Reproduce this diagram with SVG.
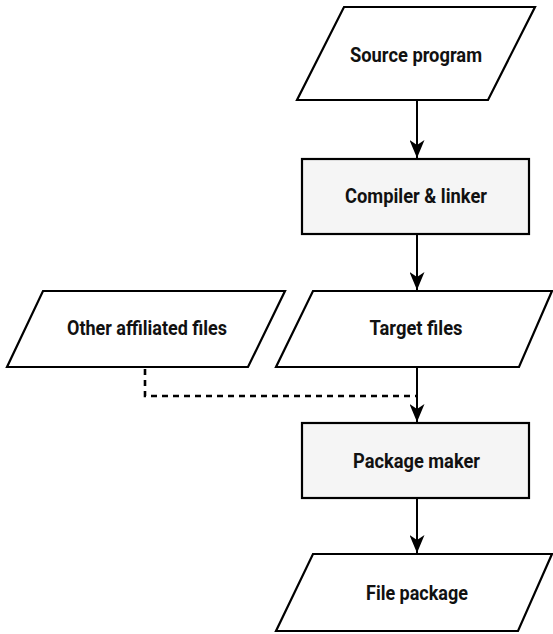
<svg xmlns="http://www.w3.org/2000/svg" width="553" height="634" viewBox="0 0 553 634">
<style>
.shape{stroke:#000;stroke-width:2.2;stroke-linejoin:miter}
.io{fill:#fff}
.proc{fill:#f5f5f5}
.lbl{font-family:"Roboto","Liberation Sans",sans-serif;font-weight:bold;font-size:20.5px;fill:#111;text-anchor:middle}
.conn{stroke:#000;stroke-width:2;fill:none}
.dash{stroke:#000;stroke-width:2.6;fill:none;stroke-dasharray:6 5}
</style>
<defs>
<marker id="arr" markerWidth="18" markerHeight="15" refX="18" refY="7.5" orient="auto" markerUnits="userSpaceOnUse">
<path d="M0,0 L18,7.5 L0,15 L5,7.5 Z" fill="#000"/>
</marker>
</defs>
<rect width="553" height="634" fill="#fff"/>
<g id="connectors">
<line class="conn" x1="417" y1="100" x2="417" y2="158" marker-end="url(#arr)"/>
<line class="conn" x1="417" y1="234" x2="417" y2="290" marker-end="url(#arr)"/>
<line class="conn" x1="417" y1="367" x2="417" y2="422" marker-end="url(#arr)"/>
<line class="conn" x1="417" y1="498" x2="417" y2="553" marker-end="url(#arr)"/>
<polyline class="dash" points="145,369 145,396 417,396"/>
</g>
<g id="source-program">
<polygon class="shape io" points="344,7 535,7 488,100 297,100"/>
<text class="lbl" x="416" y="62" textLength="132" lengthAdjust="spacingAndGlyphs">Source program</text>
</g>
<g id="compiler-linker">
<rect class="shape proc" x="302" y="159" width="227" height="75"/>
<text class="lbl" x="416" y="203" textLength="142" lengthAdjust="spacingAndGlyphs">Compiler &amp; linker</text>
</g>
<g id="other-affiliated-files">
<polygon class="shape io" points="43,291 285,291 248,367 7,367"/>
<text class="lbl" x="147" y="335" textLength="160" lengthAdjust="spacingAndGlyphs">Other affiliated files</text>
</g>
<g id="target-files">
<polygon class="shape io" points="313,291 552,291 519,367 276,367"/>
<text class="lbl" x="416" y="335" textLength="93" lengthAdjust="spacingAndGlyphs">Target files</text>
</g>
<g id="package-maker">
<rect class="shape proc" x="302" y="423" width="227" height="75"/>
<text class="lbl" x="416.5" y="468" textLength="127" lengthAdjust="spacingAndGlyphs">Package maker</text>
</g>
<g id="file-package">
<polygon class="shape io" points="313,554 552,554 518,631 276,631"/>
<text class="lbl" x="417" y="600" textLength="102" lengthAdjust="spacingAndGlyphs">File package</text>
</g>
</svg>
